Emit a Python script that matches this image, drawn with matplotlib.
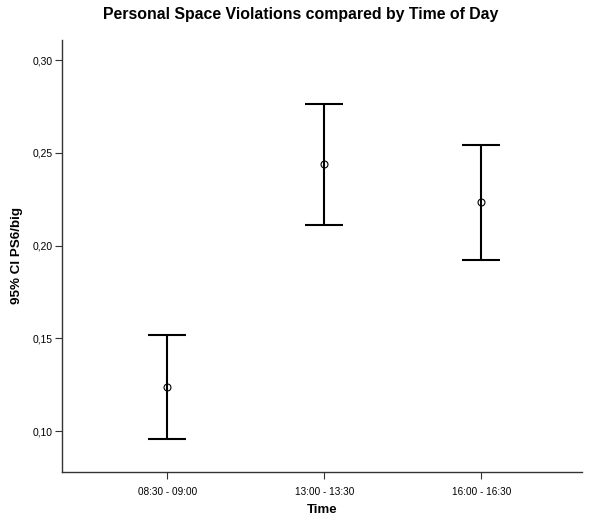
import matplotlib
matplotlib.use("Agg")
import matplotlib.pyplot as plt
from matplotlib.ticker import FuncFormatter

categories = ["08:30 - 09:00", "13:00 - 13:30", "16:00 - 16:30"]
means = [0.1237, 0.2439, 0.2234]
lower = [0.0958, 0.2112, 0.1923]
upper = [0.1516, 0.2763, 0.2543]

plt.rcParams['font.family'] = ['Liberation Sans', 'DejaVu Sans']

fig = plt.figure(figsize=(5.97, 5.21), dpi=100)
ax = fig.add_axes([62/597, 49/521, 520/597, 432/521])

x = list(range(len(categories)))
yerr = [[m - l for m, l in zip(means, lower)], [u - m for m, u in zip(means, upper)]]
ax.errorbar(x, means, yerr=yerr, fmt='none', ecolor='black', elinewidth=1.5,
            capsize=14, capthick=1.5)
ax.plot(x, means, linestyle='none', marker='o', markersize=5, markerfacecolor='none',
        markeredgecolor='black', markeredgewidth=0.8)

ax.set_xlim(-0.67, 2.64)
ax.set_ylim(0.0779, 0.3108)
ax.set_xticks(x)
ax.set_xticklabels(categories, fontsize=7.2)
ax.set_yticks([0.10, 0.15, 0.20, 0.25, 0.30])
ax.yaxis.set_major_formatter(FuncFormatter(lambda v, p: f"{v:.2f}".replace('.', ',')))
ax.tick_params(axis='y', labelsize=7.4, length=5, width=0.8, color='#333333', pad=2)
ax.tick_params(axis='x', length=5, width=0.8, color='#333333', pad=6)
for s in ['top', 'right']:
    ax.spines[s].set_visible(False)
for s in ['left', 'bottom']:
    ax.spines[s].set_linewidth(1.0)
    ax.spines[s].set_color('#333333')

ax.set_xlabel("Time", fontsize=9.5, fontweight='bold', labelpad=5)
ax.set_ylabel("95% CI PS6/big", fontsize=9.6, fontweight='bold')
ax.yaxis.set_label_coords(-(62 - 23) / 520, 0.5)
fig.text(0.5 * (101.7 + 500) / 597, 1 - 14/521, "Personal Space Violations compared by Time of Day",
         ha='center', va='center', fontsize=11.4, fontweight='bold')

fig.savefig("out.png", dpi=100)
